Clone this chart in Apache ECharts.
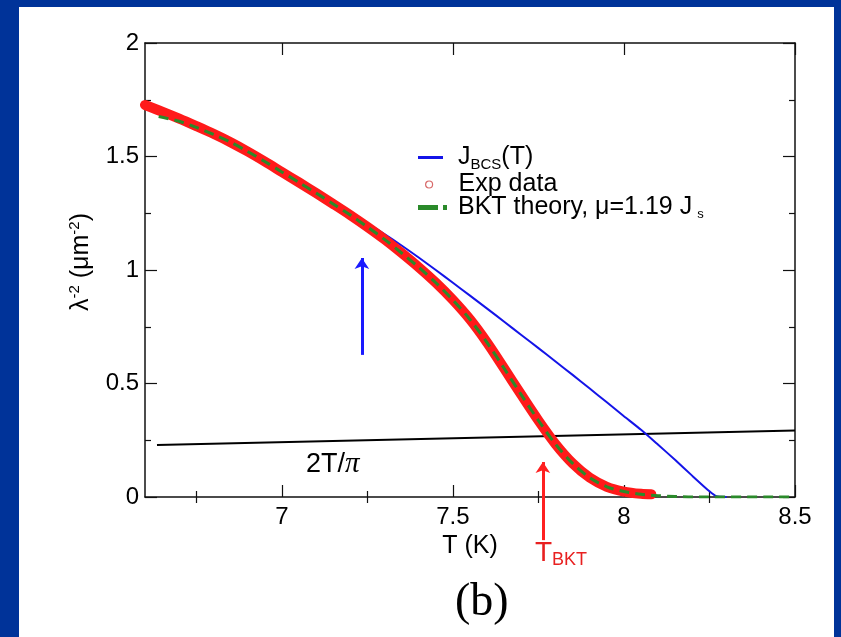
<!DOCTYPE html>
<html>
<head>
<meta charset="utf-8">
<script src="https://cdn.jsdelivr.net/npm/echarts@6/dist/echarts.min.js"></script>
<style>
  html, body { margin: 0; padding: 0; background: #003399; }
  #frame { position: absolute; left: 0; top: 0; width: 841px; height: 637px; background: #003399; }
  #panel { position: absolute; left: 19px; top: 7px; width: 815px; height: 630px; background: #ffffff; }
  #chart { position: absolute; left: 0; top: 0; width: 841px; height: 637px; }
</style>
</head>
<body>
<div id="frame"><div id="panel"></div><div id="chart"></div></div>
<script>
// Measured superfluid stiffness λ^-2 (µm^-2) versus temperature T (K)
const tempExp = [6.60, 6.65, 6.70, 6.75, 6.80, 6.85, 6.90, 6.95, 7.00, 7.05, 7.10, 7.15, 7.20, 7.25, 7.30, 7.35, 7.40, 7.45, 7.50, 7.55, 7.60, 7.65, 7.70, 7.75, 7.80, 7.85, 7.90, 7.95, 8.00, 8.05, 8.08];
const lambdaExp = [1.727, 1.698, 1.667, 1.634, 1.600, 1.563, 1.522, 1.478, 1.432, 1.386, 1.339, 1.291, 1.242, 1.190, 1.135, 1.075, 1.012, 0.944, 0.868, 0.782, 0.680, 0.566, 0.450, 0.337, 0.233, 0.148, 0.085, 0.045, 0.024, 0.014, 0.012];

// BCS stiffness J_BCS(T)
const tempBCS = [6.60, 6.65, 6.70, 6.75, 6.80, 6.85, 6.90, 6.95, 7.00, 7.05, 7.10, 7.15, 7.20, 7.25, 7.30, 7.35, 7.40, 7.45, 7.50, 7.55, 7.60, 7.65, 7.70, 7.75, 7.80, 7.85, 7.90, 7.95, 8.00, 8.05, 8.10, 8.15, 8.20, 8.25, 8.27, 8.30];
const lambdaBCS = [1.727, 1.698, 1.667, 1.634, 1.600, 1.563, 1.522, 1.478, 1.432, 1.386, 1.339, 1.291, 1.250, 1.205, 1.158, 1.108, 1.055, 1.000, 0.944, 0.887, 0.830, 0.772, 0.714, 0.656, 0.597, 0.538, 0.478, 0.417, 0.356, 0.296, 0.230, 0.163, 0.093, 0.025, 0.003, 0.000];

// BKT theory curve, mu = 1.19 J_s
const tempBKT = [6.64, 6.70, 6.75, 6.80, 6.85, 6.90, 6.95, 7.00, 7.05, 7.10, 7.15, 7.20, 7.25, 7.30, 7.35, 7.40, 7.45, 7.50, 7.55, 7.60, 7.65, 7.70, 7.75, 7.80, 7.85, 7.90, 7.95, 8.00, 8.05, 8.10, 8.15, 8.20, 8.50];
const lambdaBKT = [1.676, 1.655, 1.628, 1.597, 1.563, 1.522, 1.478, 1.432, 1.386, 1.339, 1.291, 1.242, 1.190, 1.135, 1.075, 1.012, 0.944, 0.868, 0.782, 0.680, 0.566, 0.450, 0.337, 0.233, 0.148, 0.085, 0.045, 0.024, 0.012, 0.006, 0.002, 0.000, 0.000];

// Universal jump line 2T/pi
const tempJump = [6.635, 8.50];
const lambdaJump = [0.229, 0.293];

// Arrows: [T, bottom, top]
const arrowBCS = [7.234, 0.626, 1.053];
const arrowBKT = [7.763, -0.190, 0.154];

// Axis ticks
const xMajorTicks = [7, 7.5, 8, 8.5];
const xMinorTicks = [6.75, 7.25, 7.75, 8.25];
const xMin = 6.6, xMax = 8.5;
const yMin = 0, yMax = 2, yStep = 0.5;

const zip = (xs, ys) => xs.map((x, i) => [x, ys[i]]);

const FONT = '"Liberation Sans", Arial, Helvetica, sans-serif';
const SERIF = '"Liberation Serif", "DejaVu Serif", serif';
const AX = '#111111';

const xBase = {
  type: 'value', min: xMin, max: xMax, gridIndex: 0,
  splitLine: { show: false },
  axisLine: { show: false },
  axisLabel: { show: false },
  axisTick: { show: false }
};

const chart = echarts.init(document.getElementById('chart'), null, { renderer: 'canvas' });

chart.setOption({
  animation: false,
  backgroundColor: 'transparent',
  grid: { left: 145, top: 43, width: 650, height: 454, containLabel: false },
  xAxis: [
    Object.assign({}, xBase, {
      position: 'bottom',
      axisLine: { show: true, onZero: false, lineStyle: { color: AX, width: 1.5 } },
      axisTick: { show: true, inside: true, length: 12, customValues: xMajorTicks, lineStyle: { color: AX, width: 1.2 } },
      axisLabel: { show: true, customValues: xMajorTicks, margin: 8, color: '#000', fontSize: 24, fontFamily: FONT },
      name: 'T (K)', nameLocation: 'middle', nameGap: 32,
      nameTextStyle: { color: '#000', fontSize: 25, fontFamily: FONT }
    }),
    Object.assign({}, xBase, {
      position: 'bottom',
      axisTick: { show: true, inside: true, length: 6, customValues: xMinorTicks, lineStyle: { color: AX, width: 1.2 } }
    }),
    Object.assign({}, xBase, {
      position: 'top',
      axisLine: { show: true, onZero: false, lineStyle: { color: AX, width: 1.5 } },
      axisTick: { show: true, inside: true, length: 12, customValues: xMajorTicks, lineStyle: { color: AX, width: 1.2 } }
    }),
    Object.assign({}, xBase, {
      position: 'top',
      axisTick: { show: true, inside: true, length: 6, customValues: xMinorTicks, lineStyle: { color: AX, width: 1.2 } }
    })
  ],
  yAxis: [
    {
      type: 'value', min: yMin, max: yMax, interval: yStep, position: 'left',
      splitLine: { show: false },
      axisLine: { show: true, onZero: false, lineStyle: { color: AX, width: 1.5 } },
      axisTick: { show: true, inside: true, length: 12, lineStyle: { color: AX, width: 1.2 } },
      minorTick: { show: true, splitNumber: 2, length: 6, lineStyle: { color: AX, width: 1.2 } },
      axisLabel: { margin: 6, color: '#000', fontSize: 24, fontFamily: FONT },
      name: '{a|λ}{sup|-2}{a| (μm}{sup|-2}{a|)}',
      nameLocation: 'middle', nameRotate: 90, nameGap: 50,
      nameTextStyle: {
        color: '#000', fontFamily: FONT, padding: [0, 0, 0, 16],
        rich: {
          a: { fontSize: 25, lineHeight: 28, fontFamily: FONT, color: '#000' },
          sup: { fontSize: 15, lineHeight: 15, padding: [0, 0, 12, 0], fontFamily: FONT, color: '#000' }
        }
      }
    },
    {
      type: 'value', min: yMin, max: yMax, interval: yStep, position: 'right',
      splitLine: { show: false },
      axisLine: { show: true, onZero: false, lineStyle: { color: AX, width: 1.5 } },
      axisTick: { show: true, inside: true, length: 12, lineStyle: { color: AX, width: 1.2 } },
      minorTick: { show: true, splitNumber: 2, length: 6, lineStyle: { color: AX, width: 1.2 } },
      axisLabel: { show: false }
    }
  ],
  legend: [
    {
      data: [{ name: 'J_BCS(T)', icon: 'rect' }],
      left: 413, top: 138, itemWidth: 25, itemHeight: 3,
      formatter: '{a|J}{s|BCS}{a|(T)}',
      textStyle: {
        padding: [0, 0, 0, 10],
        rich: {
          a: { fontSize: 25, lineHeight: 28, fontFamily: FONT, color: '#000' },
          s: { fontSize: 15, lineHeight: 14, padding: [14, 0, 0, 0], fontFamily: FONT, color: '#000' }
        }
      }
    },
    {
      data: [{ name: 'Exp data', icon: 'circle' }],
      left: 420, top: 167, itemWidth: 7, itemHeight: 7,
      itemStyle: { color: '#ffffff', borderColor: '#d86a6a', borderWidth: 1.2 },
      textStyle: { padding: [0, 0, 0, 21], fontSize: 25, fontFamily: FONT, color: '#000' }
    },
    {
      data: [{ name: 'BKT theory, μ=1.19 J_s', icon: 'path://M0,0h20v5h-20zM25,0h4v5h-4z' }],
      left: 413, top: 189, itemWidth: 29, itemHeight: 5,
      formatter: '{a|BKT theory, μ=1.19 J}{s|s}',
      textStyle: {
        padding: [0, 0, 0, 6],
        rich: {
          a: { fontSize: 25, lineHeight: 28, fontFamily: FONT, color: '#000' },
          s: { fontSize: 13, lineHeight: 14, padding: [14, 0, 0, 5], fontFamily: FONT, color: '#000' }
        }
      }
    }
  ],
  series: [
    {
      name: '2T/π', type: 'line', xAxisIndex: 0, yAxisIndex: 0,
      data: zip(tempJump, lambdaJump), symbol: 'none', z: 1,
      lineStyle: { color: '#000', width: 2 }, itemStyle: { color: '#000' }
    },
    {
      name: 'J_BCS(T)', type: 'line', xAxisIndex: 0, yAxisIndex: 0,
      data: zip(tempBCS, lambdaBCS), symbol: 'none', z: 2, smooth: 0.2,
      lineStyle: { color: '#1414e8', width: 2 }, itemStyle: { color: '#1414e8' }
    },
    {
      name: 'Exp data', type: 'line', xAxisIndex: 0, yAxisIndex: 0,
      data: zip(tempExp, lambdaExp), symbol: 'none', z: 3, smooth: 0.3,
      lineStyle: { color: '#ff1a1a', width: 10, cap: 'round', join: 'round' },
      itemStyle: { color: '#ff1a1a' }
    },
    {
      name: 'BKT theory, μ=1.19 J_s', type: 'line', xAxisIndex: 0, yAxisIndex: 0,
      data: zip(tempBKT, lambdaBKT), symbol: 'none', z: 4, smooth: 0.3,
      lineStyle: { color: '#2a8a2a', width: 3, type: [10, 6] }, itemStyle: { color: '#2a8a2a' }
    },
    {
      name: 'arrows', type: 'lines', coordinateSystem: 'cartesian2d', xAxisIndex: 0, yAxisIndex: 0,
      clip: false, z: 5, symbol: ['none', 'arrow'], symbolSize: 11,
      lineStyle: { width: 3, opacity: 1 },
      data: [
        { coords: [[arrowBCS[0], arrowBCS[1]], [arrowBCS[0], arrowBCS[2]]], lineStyle: { color: '#1a1aff' } },
        { coords: [[arrowBKT[0], arrowBKT[1]], [arrowBKT[0], arrowBKT[2]]], lineStyle: { color: '#ff2020' } }
      ]
    }
  ],
  graphic: [
    {
      type: 'text', left: 306, top: 450, z: 10,
      style: {
        text: '{a|2T/}{p|π}',
        rich: {
          a: { fontSize: 27, fontFamily: FONT, fill: '#000' },
          p: { fontSize: 29, fontFamily: SERIF, fontStyle: 'italic', fill: '#000' }
        }
      }
    },
    {
      type: 'text', left: 535, top: 538, z: 10,
      style: {
        text: '{t|T}{s|BKT}',
        rich: {
          t: { fontSize: 28, lineHeight: 30, fontFamily: FONT, fill: '#e82020' },
          s: { fontSize: 18, lineHeight: 18, padding: [13, 0, 0, 0], fontFamily: FONT, fill: '#e82020' }
        }
      }
    },
    {
      type: 'text', left: 455, top: 580, z: 10,
      style: { text: '(b)', fontSize: 46, fontFamily: SERIF, fill: '#000' }
    }
  ]
});
</script>
</body>
</html>
